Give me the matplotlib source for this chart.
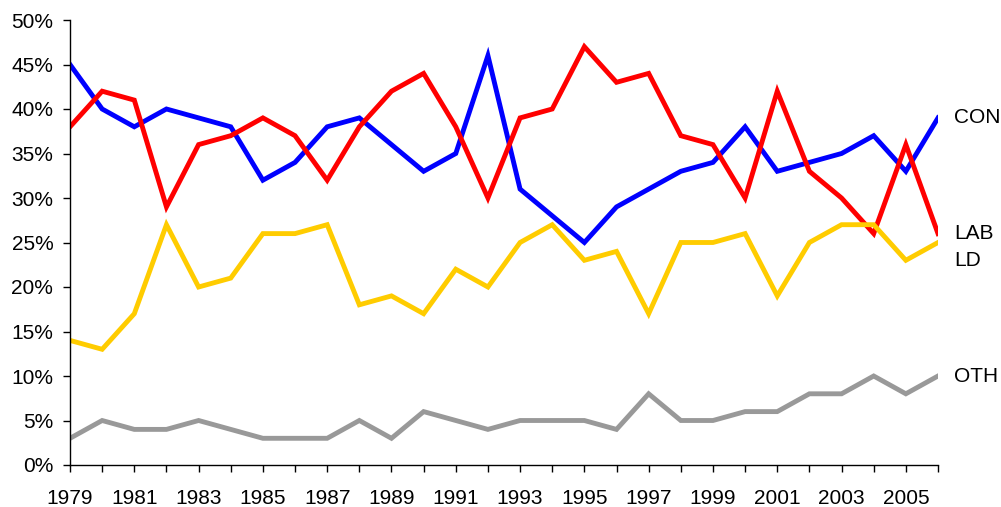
import matplotlib
matplotlib.use("Agg")
import matplotlib.pyplot as plt
from matplotlib.ticker import FuncFormatter, MultipleLocator

years = list(range(1979, 2007))

con = [45, 40, 38, 40, 39, 38, 32, 34, 38, 39, 36, 33, 35, 46,
       31, 28, 25, 29, 31, 33, 34, 38, 33, 34, 35, 37, 33, 39]
lab = [38, 42, 41, 29, 36, 37, 39, 37, 32, 38, 42, 44, 38, 30,
       39, 40, 47, 43, 44, 37, 36, 30, 42, 33, 30, 26, 36, 26]
ld = [14, 13, 17, 27, 20, 21, 26, 26, 27, 18, 19, 17, 22, 20,
      25, 27, 23, 24, 17, 25, 25, 26, 19, 25, 27, 27, 23, 25]
oth = [3, 5, 4, 4, 5, 4, 3, 3, 3, 5, 3, 6, 5, 4,
       5, 5, 5, 4, 8, 5, 5, 6, 6, 8, 8, 10, 8, 10]

plt.rcParams['font.family'] = ['Liberation Sans', 'DejaVu Sans']

fig = plt.figure(figsize=(10.01, 5.07), dpi=100)
ax = fig.add_axes([70 / 1001, 42 / 507, 868 / 1001, 445 / 507])

series = [
    ('CON', con, '#0000ff', 0.0),
    ('LAB', lab, '#ff0000', 0.0),
    ('LD', ld, '#ffcc00', -2.0),
    ('OTH', oth, '#999999', 0.0),
]
for name, vals, col, shift in series:
    ax.plot(years, vals, color=col, lw=3.5, solid_joinstyle='miter')
    ax.text(years[-1] + 0.5, vals[-1] + shift, name, fontsize=15,
            va='center', ha='left', clip_on=False)

ax.set_xlim(1979, 2006)
ax.set_ylim(0, 50)
ax.set_xticks(years)
ax.set_xticklabels([str(y) if (y - 1979) % 2 == 0 else '' for y in years])
ax.yaxis.set_major_locator(MultipleLocator(5))
ax.yaxis.set_major_formatter(FuncFormatter(lambda v, p: f'{v:.0f}%'))
ax.tick_params(labelsize=15, direction='out', length=5, width=1, colors='black')
ax.tick_params(axis='x', pad=12)
ax.tick_params(axis='y', pad=7)

for s in ['top', 'right']:
    ax.spines[s].set_visible(False)
for s in ['left', 'bottom']:
    ax.spines[s].set_linewidth(1)

fig.savefig('out.png', dpi=100)
